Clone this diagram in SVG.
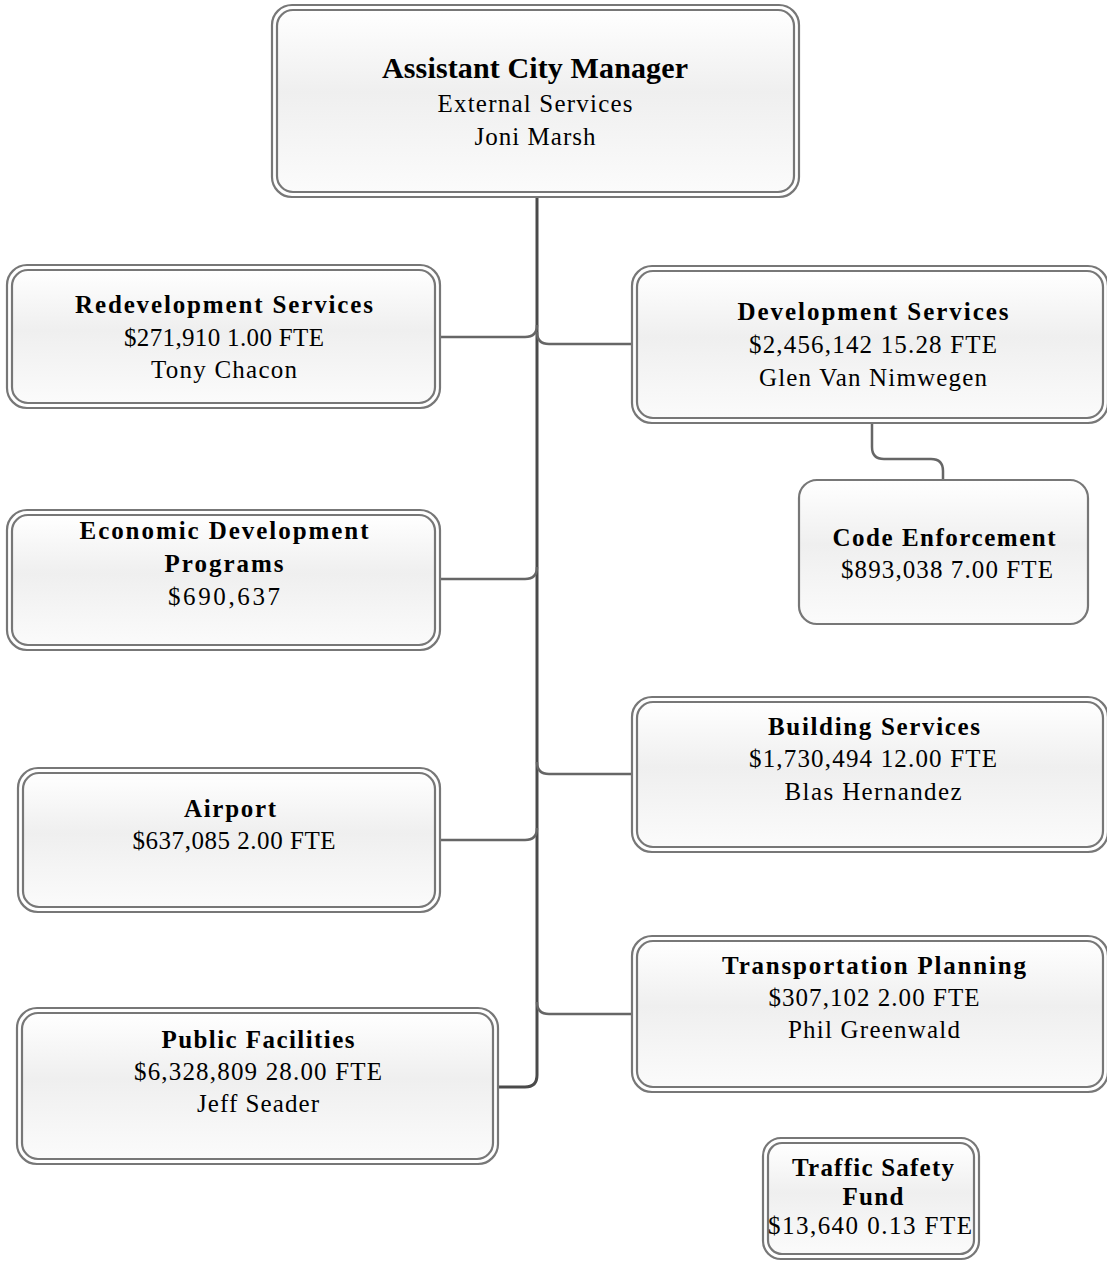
<svg xmlns="http://www.w3.org/2000/svg" width="1107" height="1266" viewBox="0 0 1107 1266">
<style>
.outer{fill:#ffffff;stroke:#777777;stroke-width:2.2}
.inner{fill:url(#g);stroke:#777777;stroke-width:2.2}
.single{fill:url(#g);stroke:#777777;stroke-width:2.2}
text{font-family:"Liberation Serif",serif;font-size:25px;fill:#000;text-anchor:middle}
.t{font-weight:bold}
.big{font-size:30px;font-weight:bold}
.con{fill:none;stroke:#666666;stroke-width:2.5}
.trunk{fill:none;stroke:#4a4a4a;stroke-width:3}
</style>
<defs>
<linearGradient id="g" x1="0" y1="0" x2="0" y2="1">
<stop offset="0" stop-color="#ffffff"/>
<stop offset="0.45" stop-color="#efefef"/>
<stop offset="1" stop-color="#fbfbfb"/>
</linearGradient>
</defs>
<g id="connectors">
<path class="trunk" d="M537,197 V1075 Q537,1087 525,1087 H498"/>
<path class="con" d="M440,337 H525 Q537,337 537,325"/>
<path class="con" d="M440,579 H525 Q537,579 537,567"/>
<path class="con" d="M440,840 H525 Q537,840 537,828"/>
<path class="con" d="M537,332 Q537,344 549,344 H632"/>
<path class="con" d="M537,762 Q537,774 549,774 H632"/>
<path class="con" d="M537,1002 Q537,1014 549,1014 H632"/>
<path class="con" d="M872,423 V447 Q872,459 884,459 H931 Q943,459 943,471 V481"/>
</g>
<g id="acm">
<rect class="outer" x="272" y="5" width="527" height="192" rx="20"/>
<rect class="inner" x="277" y="10" width="517" height="182" rx="16"/>
<text class="big" x="535" y="78" textLength="306" lengthAdjust="spacing">Assistant City Manager</text>
<text x="535" y="112" textLength="195" lengthAdjust="spacing">External Services</text>
<text x="535" y="145" textLength="121" lengthAdjust="spacing">Joni Marsh</text>
</g>
<g id="redevelopment">
<rect class="outer" x="7" y="265" width="433" height="143" rx="20"/>
<rect class="inner" x="12" y="270" width="423" height="133" rx="16"/>
<text class="t" x="224" y="313" textLength="298" lengthAdjust="spacing">Redevelopment Services</text>
<text x="224" y="346" textLength="200" lengthAdjust="spacing">$271,910 1.00 FTE</text>
<text x="224" y="378" textLength="146" lengthAdjust="spacing">Tony Chacon</text>
</g>
<g id="economic">
<rect class="outer" x="7" y="510" width="433" height="140" rx="20"/>
<rect class="inner" x="12" y="515" width="423" height="130" rx="16"/>
<text class="t" x="224" y="539" textLength="289" lengthAdjust="spacing">Economic Development</text>
<text class="t" x="224" y="572" textLength="119" lengthAdjust="spacing">Programs</text>
<text x="224" y="605" textLength="112" lengthAdjust="spacing">$690,637</text>
</g>
<g id="airport">
<rect class="outer" x="18" y="768" width="422" height="144" rx="20"/>
<rect class="inner" x="23" y="773" width="412" height="134" rx="16"/>
<text class="t" x="230" y="817" textLength="92" lengthAdjust="spacing">Airport</text>
<text x="234" y="849" textLength="203" lengthAdjust="spacing">$637,085 2.00 FTE</text>
</g>
<g id="public-facilities">
<rect class="outer" x="17" y="1008" width="481" height="156" rx="20"/>
<rect class="inner" x="22" y="1013" width="471" height="146" rx="16"/>
<text class="t" x="258" y="1048" textLength="193" lengthAdjust="spacing">Public Facilities</text>
<text x="258" y="1080" textLength="248" lengthAdjust="spacing">$6,328,809 28.00 FTE</text>
<text x="258" y="1112" textLength="122" lengthAdjust="spacing">Jeff Seader</text>
</g>
<g id="development">
<rect class="outer" x="632" y="266" width="476" height="157" rx="20"/>
<rect class="inner" x="637" y="271" width="466" height="147" rx="16"/>
<text class="t" x="873" y="320" textLength="271" lengthAdjust="spacing">Development Services</text>
<text x="873" y="353" textLength="248" lengthAdjust="spacing">$2,456,142 15.28 FTE</text>
<text x="873" y="386" textLength="228" lengthAdjust="spacing">Glen Van Nimwegen</text>
</g>
<g id="code-enforcement">
<rect class="single" x="799" y="480" width="289" height="144" rx="18"/>
<text class="t" x="944" y="546" textLength="223" lengthAdjust="spacing">Code Enforcement</text>
<text x="947" y="578" textLength="212" lengthAdjust="spacing">$893,038 7.00 FTE</text>
</g>
<g id="building">
<rect class="outer" x="632" y="697" width="476" height="155" rx="20"/>
<rect class="inner" x="637" y="702" width="466" height="145" rx="16"/>
<text class="t" x="874" y="735" textLength="212" lengthAdjust="spacing">Building Services</text>
<text x="873" y="767" textLength="248" lengthAdjust="spacing">$1,730,494 12.00 FTE</text>
<text x="873" y="800" textLength="177" lengthAdjust="spacing">Blas Hernandez</text>
</g>
<g id="transportation">
<rect class="outer" x="632" y="936" width="476" height="156" rx="20"/>
<rect class="inner" x="637" y="941" width="466" height="146" rx="16"/>
<text class="t" x="874" y="974" textLength="304" lengthAdjust="spacing">Transportation Planning</text>
<text x="874" y="1006" textLength="211" lengthAdjust="spacing">$307,102 2.00 FTE</text>
<text x="874" y="1038" textLength="172" lengthAdjust="spacing">Phil Greenwald</text>
</g>
<g id="traffic-safety">
<rect class="outer" x="763" y="1138" width="216" height="121" rx="18"/>
<rect class="inner" x="768" y="1143" width="206" height="111" rx="14"/>
<text class="t" x="873" y="1176" textLength="162" lengthAdjust="spacing">Traffic Safety</text>
<text class="t" x="873" y="1205" textLength="61" lengthAdjust="spacing">Fund</text>
<text x="870" y="1234" textLength="204" lengthAdjust="spacing">$13,640 0.13 FTE</text>
</g>
</svg>
